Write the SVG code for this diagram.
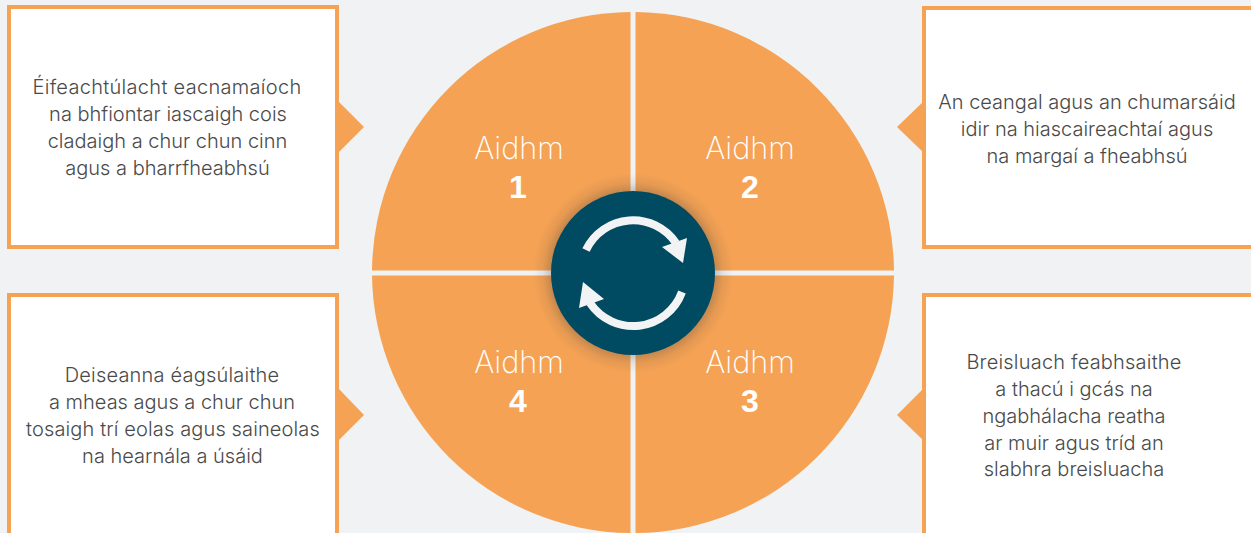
<svg xmlns="http://www.w3.org/2000/svg" width="1251" height="533" viewBox="0 0 1251 533">
<style>
.box{fill:#fff;stroke:#f5a254;stroke-width:4}
.or{fill:#f5a254}
.t{font-family:"Inter","Liberation Sans",sans-serif;font-weight:300;font-size:20px;fill:#4a4a4a;text-anchor:middle}
.a{font-family:"Inter","Liberation Sans",sans-serif;font-weight:200;font-size:30.6px;fill:#fff;text-anchor:middle}
.n{font-family:"Liberation Sans",sans-serif;font-weight:700;font-size:32px;fill:#fff;text-anchor:middle}
.ar{fill:none;stroke:#f1f3f5;stroke-width:8}
.hd{fill:#f1f3f5}
.w1{letter-spacing:.3px}
.w2{letter-spacing:.2px}
.w3{letter-spacing:.13px}
</style>
<defs>
<radialGradient id="sh" gradientUnits="userSpaceOnUse" cx="633" cy="273" r="100">
<stop offset="0.8" stop-color="#3c3c3c" stop-opacity="0.3"/>
<stop offset="0.9" stop-color="#3c3c3c" stop-opacity="0.09"/>
<stop offset="1" stop-color="#3c3c3c" stop-opacity="0"/>
</radialGradient>
</defs>
<rect width="1251" height="533" fill="#f1f2f4"/>
<g id="wheel">
<path class="or" d="M630.5 12A261 261 0 0 0 372 270.500H630.500Z"/>
<path class="or" d="M635.500 12A261 261 0 0 1 894 270.500H635.500Z"/>
<path class="or" d="M630.500 275.500H372A261 261 0 0 0 630.500 533Z"/>
<path class="or" d="M635.500 275.500H894A261 261 0 0 1 635.500 533Z"/>
<circle cx="633" cy="273" r="100" fill="url(#sh)"/>
</g>
<g id="aim1"><text class="a" x="519" y="159">Aidhm</text><text class="n" x="518" y="198">1</text></g>
<g id="aim2"><text class="a" x="750" y="159">Aidhm</text><text class="n" x="750" y="198">2</text></g>
<g id="aim3"><text class="a" x="750" y="373">Aidhm</text><text class="n" x="750" y="412">3</text></g>
<g id="aim4"><text class="a" x="519" y="373">Aidhm</text><text class="n" x="518" y="412">4</text></g>
<g id="hub">
<circle cx="633" cy="273" r="82" fill="#004b61"/>
<path class="ar" d="M586 250A52 52 0 0 1 676 243"/>
<polygon class="hd" points="662,247 687,238 683,263"/>
<path class="ar" d="M682 292A52 52 0 0 1 590 303"/>
<polygon class="hd" points="604,299 579,308 583,282"/>
</g>
<g id="box1">
<polygon class="or" points="338,101 364,127 338,153"/>
<rect class="box" x="9" y="7" width="328" height="240"/>
<text class="t"><tspan class="w1" x="167" y="94">Éifeachtúlacht eacnamaíoch</tspan><tspan x="168" y="121">na bhfiontar iascaigh cois</tspan><tspan x="167.500" y="148">cladaigh a chur chun cinn</tspan><tspan x="167.500" y="175">agus a bharrfheabhsú</tspan></text>
</g>
<g id="box2">
<polygon class="or" points="924,101 897,127 924,153"/>
<rect class="box" x="924" y="8" width="333" height="239"/>
<text class="t"><tspan x="1087" y="109">An ceangal agus an chumarsáid</tspan><tspan x="1087" y="136">idir na hiascaireachtaí agus</tspan><tspan x="1087" y="163">na margaí a fheabhsú</tspan></text>
</g>
<g id="box3">
<polygon class="or" points="924,388 897,415 924,441"/>
<rect class="box" x="924" y="295" width="333" height="245"/>
<text class="t"><tspan class="w2" x="1074" y="369">Breisluach feabhsaithe</tspan><tspan x="1074" y="396">a thacú i gcás na</tspan><tspan x="1074" y="423">ngabhálacha reatha</tspan><tspan x="1074" y="450">ar muir agus tríd an</tspan><tspan x="1074" y="476">slabhra breisluacha</tspan></text>
</g>
<g id="box4">
<polygon class="or" points="338,388 364,415 338,441"/>
<rect class="box" x="9" y="295" width="328" height="245"/>
<text class="t"><tspan class="w2" x="172" y="382">Deiseanna éagsúlaithe</tspan><tspan x="172" y="409">a mheas agus a chur chun</tspan><tspan class="w3" x="173" y="436">tosaigh trí eolas agus saineolas</tspan><tspan x="172.500" y="463">na hearnála a úsáid</tspan></text>
</g>
</svg>
